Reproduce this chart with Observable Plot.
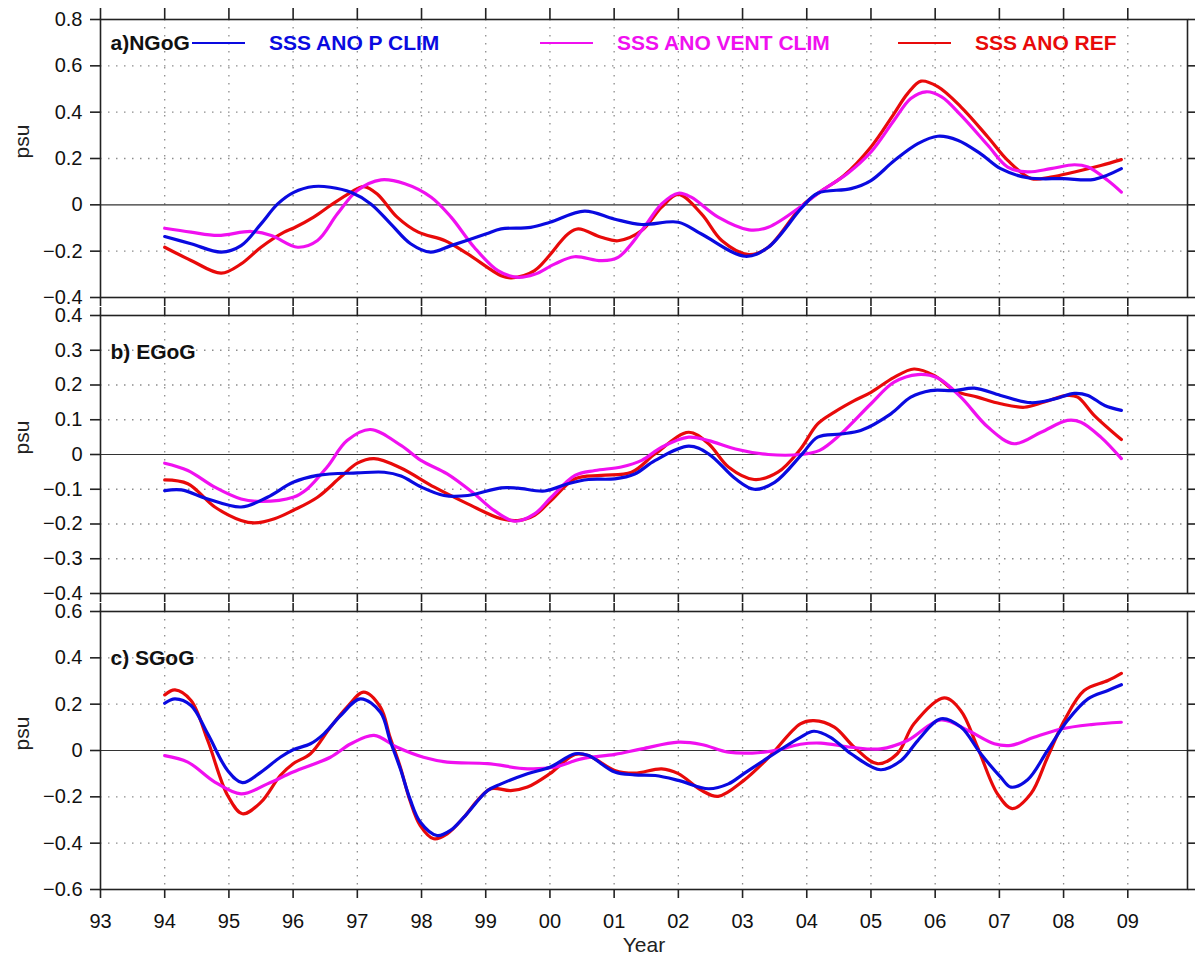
<!DOCTYPE html>
<html>
<head>
<meta charset="utf-8">
<script src="https://cdn.jsdelivr.net/npm/d3@7"></script>
<script src="https://cdn.jsdelivr.net/npm/@observablehq/plot@0.6"></script>
<style>
  body { margin: 0; background: #fff; }
  #wrap { position: relative; width: 1195px; height: 958px; font-family: "Liberation Sans", Arial, Helvetica, sans-serif; }
  #wrap svg { display: block; }
  .leg { position: absolute; top: 31px; height: 24px; display: flex; align-items: center; }
  .leg .ln { width: 53px; height: 1.6px; }
  .leg .tx { margin-left: 24px; font-weight: bold; font-size: 21px; white-space: nowrap; }
</style>
</head>
<body>
<div id="wrap"></div>
<script>
// ---------- data (year, psu) ----------
const seriesNames = ["SSS ANO P CLIM", "SSS ANO VENT CLIM", "SSS ANO REF"];
const seriesColors = ["#0a0ae0", "#f010f0", "#e80a0a"];
const panelLabels = ["a)NGoG", "b) EGoG", "c) SGoG"];
const xTickYears = [1993,1994,1995,1996,1997,1998,1999,2000,2001,2002,2003,2004,2005,2006,2007,2008,2009];
const yTicksA = [-0.4,-0.2,0,0.2,0.4,0.6,0.8];
const yTicksB = [-0.4,-0.3,-0.2,-0.1,0,0.1,0.2,0.3,0.4];
const yTicksC = [-0.6,-0.4,-0.2,0,0.2,0.4,0.6];

// Panel a) NGoG
const aP = [[1994.0,-0.137],[1994.41,-0.168],[1994.88,-0.204],[1995.19,-0.176],[1995.5,-0.082],[1995.76,0.004],[1996.01,0.054],[1996.32,0.079],[1996.58,0.076],[1996.9,0.054],[1997.21,0.004],[1997.52,-0.082],[1997.83,-0.168],[1998.14,-0.204],[1998.46,-0.176],[1999.0,-0.126],[1999.24,-0.104],[1999.7,-0.097],[2000.0,-0.075],[2000.54,-0.027],[2001.0,-0.061],[2001.43,-0.085],[2002.0,-0.075],[2002.36,-0.126],[2003.04,-0.222],[2003.4,-0.183],[2003.93,-0.01],[2004.17,0.05],[2004.69,0.07],[2005.0,0.105],[2005.36,0.19],[2005.73,0.264],[2006.04,0.296],[2006.35,0.279],[2006.71,0.22],[2007.02,0.156],[2007.44,0.117],[2008.0,0.113],[2008.48,0.11],[2008.9,0.156]];
const aV = [[1994.0,-0.101],[1994.41,-0.118],[1994.83,-0.132],[1995.35,-0.115],[1995.66,-0.132],[1996.07,-0.183],[1996.38,-0.154],[1996.69,-0.039],[1997.0,0.062],[1997.37,0.108],[1997.74,0.091],[1998.15,0.033],[1998.46,-0.053],[1998.82,-0.183],[1999.19,-0.284],[1999.5,-0.313],[1999.76,-0.3],[2000.07,-0.256],[2000.38,-0.224],[2000.8,-0.241],[2001.06,-0.227],[2001.43,-0.111],[2001.74,0.004],[2002.0,0.05],[2002.2,0.033],[2002.62,-0.053],[2003.1,-0.108],[2003.4,-0.097],[2003.93,-0.003],[2004.2,0.055],[2004.63,0.134],[2005.0,0.228],[2005.36,0.365],[2005.62,0.459],[2005.86,0.488],[2006.1,0.466],[2006.4,0.387],[2006.82,0.257],[2007.13,0.163],[2007.44,0.142],[2007.8,0.156],[2008.17,0.173],[2008.38,0.163],[2008.69,0.105],[2008.9,0.055]];
const aR = [[1994.0,-0.183],[1994.41,-0.24],[1994.88,-0.295],[1995.19,-0.255],[1995.5,-0.183],[1995.86,-0.118],[1996.01,-0.1],[1996.32,-0.053],[1996.58,-0.003],[1996.9,0.054],[1997.1,0.079],[1997.31,0.047],[1997.62,-0.053],[1997.95,-0.118],[1998.36,-0.154],[1998.72,-0.212],[1999.24,-0.306],[1999.4,-0.315],[1999.76,-0.284],[2000.28,-0.126],[2000.44,-0.104],[2000.8,-0.14],[2001.06,-0.155],[2001.43,-0.111],[2001.74,-0.01],[2002.0,0.045],[2002.36,-0.039],[2002.68,-0.155],[2003.1,-0.215],[2003.4,-0.183],[2003.93,-0.003],[2004.2,0.055],[2004.58,0.127],[2005.0,0.25],[2005.36,0.394],[2005.57,0.48],[2005.78,0.534],[2006.04,0.51],[2006.4,0.423],[2006.82,0.293],[2007.13,0.192],[2007.5,0.113],[2007.8,0.12],[2008.17,0.142],[2008.58,0.17],[2008.9,0.195]];

// Panel b) EGoG
const bP = [[1994.0,-0.104],[1994.26,-0.102],[1994.67,-0.128],[1995.19,-0.151],[1995.6,-0.123],[1996.0,-0.08],[1996.38,-0.06],[1997.0,-0.053],[1997.42,-0.051],[1997.68,-0.062],[1998.0,-0.094],[1998.35,-0.118],[1998.72,-0.118],[1999.24,-0.096],[1999.5,-0.097],[1999.92,-0.105],[2000.28,-0.084],[2000.6,-0.072],[2001.01,-0.07],[2001.32,-0.056],[2001.64,-0.017],[2002.16,0.024],[2002.47,0.002],[2002.89,-0.07],[2003.18,-0.1],[2003.5,-0.08],[2003.93,0.002],[2004.17,0.05],[2004.53,0.059],[2004.84,0.069],[2005.31,0.117],[2005.62,0.165],[2005.93,0.184],[2006.3,0.184],[2006.61,0.191],[2007.02,0.17],[2007.49,0.149],[2007.86,0.16],[2008.17,0.176],[2008.38,0.17],[2008.64,0.141],[2008.9,0.127]];
const bV = [[1994.0,-0.025],[1994.36,-0.046],[1994.78,-0.094],[1995.19,-0.128],[1995.5,-0.135],[1996.0,-0.123],[1996.22,-0.099],[1996.53,-0.036],[1996.84,0.04],[1997.2,0.072],[1997.68,0.026],[1997.99,-0.017],[1998.4,-0.056],[1998.82,-0.113],[1999.13,-0.161],[1999.45,-0.192],[1999.76,-0.171],[2000.02,-0.123],[2000.39,-0.06],[2000.7,-0.046],[2001.11,-0.036],[2001.43,-0.017],[2001.74,0.021],[2002.16,0.05],[2002.47,0.04],[2002.89,0.016],[2003.4,0.0],[2003.9,0.0],[2004.2,0.012],[2004.53,0.059],[2005.0,0.146],[2005.36,0.208],[2005.73,0.23],[2006.04,0.22],[2006.4,0.165],[2006.82,0.079],[2007.23,0.031],[2007.65,0.064],[2008.06,0.098],[2008.27,0.093],[2008.58,0.05],[2008.9,-0.012]];
const bR = [[1994.0,-0.073],[1994.36,-0.084],[1994.78,-0.151],[1995.19,-0.19],[1995.4,-0.197],[1995.71,-0.185],[1996.0,-0.161],[1996.38,-0.123],[1996.74,-0.065],[1997.0,-0.025],[1997.26,-0.012],[1997.67,-0.038],[1998.2,-0.094],[1998.72,-0.142],[1999.24,-0.185],[1999.5,-0.19],[1999.76,-0.175],[2000.02,-0.132],[2000.39,-0.07],[2000.8,-0.06],[2001.27,-0.051],[2001.64,0.002],[2002.16,0.064],[2002.47,0.031],[2002.78,-0.036],[2003.18,-0.072],[2003.55,-0.051],[2003.9,0.015],[2004.17,0.088],[2004.43,0.122],[2004.74,0.155],[2005.0,0.179],[2005.36,0.222],[2005.67,0.246],[2005.99,0.227],[2006.3,0.184],[2006.66,0.165],[2007.02,0.146],[2007.39,0.136],[2007.7,0.151],[2008.06,0.17],[2008.22,0.165],[2008.48,0.112],[2008.9,0.043]];

// Panel c) SGoG
const cP = [[1994.0,0.204],[1994.16,0.223],[1994.41,0.194],[1994.67,0.072],[1994.98,-0.086],[1995.21,-0.139],[1995.5,-0.093],[1995.8,-0.029],[1996.0,0.003],[1996.27,0.029],[1996.48,0.072],[1996.74,0.151],[1997.05,0.223],[1997.36,0.165],[1997.51,0.043],[1997.67,-0.079],[1997.82,-0.209],[1997.98,-0.309],[1998.24,-0.367],[1998.45,-0.345],[1998.66,-0.288],[1999.03,-0.173],[1999.24,-0.144],[1999.65,-0.1],[2000.0,-0.072],[2000.39,-0.014],[2000.6,-0.022],[2001.01,-0.093],[2001.32,-0.105],[2001.64,-0.108],[2002.0,-0.129],[2002.47,-0.165],[2002.78,-0.144],[2003.02,-0.1],[2003.41,-0.029],[2003.9,0.057],[2004.11,0.083],[2004.37,0.057],[2004.69,-0.014],[2005.15,-0.083],[2005.47,-0.043],[2005.73,0.043],[2006.09,0.137],[2006.4,0.101],[2006.71,-0.014],[2007.02,-0.115],[2007.18,-0.158],[2007.44,-0.126],[2007.75,0.0],[2008.06,0.129],[2008.38,0.223],[2008.69,0.259],[2008.9,0.284]];
const cV = [[1994.0,-0.022],[1994.36,-0.05],[1994.78,-0.136],[1995.19,-0.187],[1995.6,-0.144],[1996.0,-0.093],[1996.58,-0.029],[1996.9,0.029],[1997.26,0.065],[1997.62,0.014],[1998.03,-0.029],[1998.4,-0.05],[1999.03,-0.057],[1999.65,-0.079],[2000.07,-0.072],[2000.49,-0.036],[2001.01,-0.017],[2001.43,0.007],[2002.0,0.036],[2002.36,0.026],[2002.78,-0.007],[2003.15,-0.011],[2003.56,0.003],[2003.9,0.027],[2004.22,0.032],[2004.69,0.014],[2005.15,0.007],[2005.57,0.043],[2006.09,0.132],[2006.51,0.086],[2006.92,0.029],[2007.18,0.022],[2007.54,0.057],[2007.96,0.093],[2008.43,0.112],[2008.9,0.122]];
const cR = [[1994.0,0.24],[1994.16,0.262],[1994.41,0.216],[1994.67,0.043],[1994.98,-0.194],[1995.21,-0.273],[1995.5,-0.223],[1995.8,-0.108],[1996.0,-0.057],[1996.27,-0.014],[1996.58,0.1],[1996.84,0.187],[1997.1,0.252],[1997.36,0.187],[1997.51,0.057],[1997.67,-0.072],[1997.82,-0.216],[1997.98,-0.324],[1998.19,-0.381],[1998.4,-0.36],[1998.66,-0.288],[1998.87,-0.216],[1999.08,-0.165],[1999.39,-0.173],[1999.65,-0.158],[2000.0,-0.1],[2000.39,-0.017],[2000.6,-0.022],[2001.01,-0.086],[2001.32,-0.098],[2001.74,-0.079],[2002.0,-0.1],[2002.36,-0.172],[2002.62,-0.198],[2003.02,-0.129],[2003.41,-0.029],[2003.9,0.115],[2004.11,0.129],[2004.43,0.101],[2004.74,0.014],[2005.1,-0.057],[2005.41,-0.014],[2005.67,0.115],[2006.14,0.227],[2006.4,0.172],[2006.66,0.014],[2006.97,-0.187],[2007.2,-0.251],[2007.49,-0.187],[2007.75,-0.029],[2008.01,0.129],[2008.32,0.259],[2008.69,0.302],[2008.9,0.333]];

// ---------- build ----------
const FONT = '"Liberation Sans", Arial, Helvetica, sans-serif';
function tidy(P, V, R) {
  // draw order: REF, VENT CLIM, P CLIM (blue on top)
  const out = [];
  [[R, 2], [V, 1], [P, 0]].forEach(([arr, i]) => arr.forEach(([year, value]) => out.push({year, value, series: seriesNames[i]})));
  return out;
}
const yFmt = d => d === 0 ? "0" : d3.format(".1f")(d);
const xFmt = d => String(d % 100).padStart(2, "0");
const FRAME_H = 278;

function panel({data, yDomain, yTicks, label, labelDy, mt, mb, topTick, showX}) {
  const gridX = xTickYears.filter(y => y > 1993);
  const gridY = yTicks.filter(v => v !== 0 && v !== yDomain[0] && v !== yDomain[1]);
  return Plot.plot({
    width: 1195,
    height: mt + FRAME_H + mb,
    marginLeft: 100, marginRight: 8, marginTop: mt, marginBottom: mb,
    x: {domain: [1993, 2009.93]},
    y: {domain: yDomain},
    color: {domain: seriesNames, range: seriesColors},
    style: {fontFamily: FONT, fontSize: "20px", color: "#111", background: "white", overflow: "visible"},
    marks: [
      Plot.ruleX(gridX, {stroke: "#8c8c8c", strokeWidth: 1.3, strokeDasharray: "1.5,6.5"}),
      Plot.ruleY(gridY, {stroke: "#8c8c8c", strokeWidth: 1.3, strokeDasharray: "1.5,6.5"}),
      Plot.ruleY([0], {stroke: "#333", strokeWidth: 1.1}),
      Plot.line(data, {x: "year", y: "value", z: "series", stroke: "series", strokeWidth: 3.2, curve: "catmull-rom"}),
      Plot.frame({stroke: "#222", strokeWidth: 1.6}),
      Plot.axisY(yTicks, {anchor: "left", tickSize: 10, tickPadding: 8, tickFormat: yFmt, label: null, stroke: "#222", strokeWidth: 1.6}),
      Plot.axisY(yTicks, {anchor: "right", tickSize: 8, tickFormat: () => "", label: null, stroke: "#222", strokeWidth: 1.6}),
      Plot.axisX(xTickYears, {anchor: "top", tickSize: topTick, tickFormat: () => "", label: null, stroke: "#222", strokeWidth: 1.6}),
      Plot.axisX(xTickYears, {anchor: "bottom", tickSize: 9, tickPadding: 15, tickFormat: showX ? xFmt : () => "", label: null, stroke: "#222", strokeWidth: 1.6}),
      Plot.text([label], {frameAnchor: "top-left", dx: 10, dy: labelDy, text: d => d, fontWeight: "bold", fontSize: 21, textAnchor: "start", lineAnchor: "middle", fill: "#111"}),
      Plot.text(["psu"], {frameAnchor: "left", dx: -78, text: d => d, rotate: -90, fontSize: 21, lineAnchor: "middle", fill: "#222"}),
      showX ? Plot.text(["Year"], {frameAnchor: "bottom", dy: 56, text: d => d, fontSize: 21, lineAnchor: "middle", fill: "#222"}) : null
    ]
  });
}

const wrap = document.getElementById("wrap");
wrap.append(panel({data: tidy(aP, aV, aR), yDomain: [-0.4, 0.8], yTicks: yTicksA, label: panelLabels[0], labelDy: 24, mt: 19, mb: 9, topTick: 12, showX: false}));
wrap.append(panel({data: tidy(bP, bV, bR), yDomain: [-0.4, 0.4], yTicks: yTicksB, label: panelLabels[1], labelDy: 37, mt: 9, mb: 9, topTick: 9, showX: false}));
wrap.append(panel({data: tidy(cP, cV, cR), yDomain: [-0.6, 0.6], yTicks: yTicksC, label: panelLabels[2], labelDy: 47, mt: 9, mb: 69, topTick: 9, showX: true}));

// legend inside panel a (NCL-style: short line + bold coloured text)
const legendLeft = [192, 540, 898];
seriesNames.forEach((name, i) => {
  const item = document.createElement("div");
  item.className = "leg";
  item.style.left = legendLeft[i] + "px";
  const ln = document.createElement("span");
  ln.className = "ln"; ln.style.background = seriesColors[i];
  const tx = document.createElement("span");
  tx.className = "tx"; tx.style.color = seriesColors[i]; tx.textContent = name;
  item.append(ln, tx);
  wrap.append(item);
});
</script>
</body>
</html>
